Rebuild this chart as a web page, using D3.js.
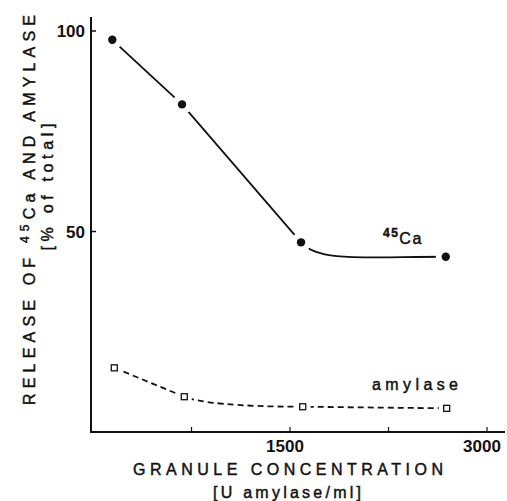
<!DOCTYPE html>
<html>
<head>
<meta charset="utf-8">
<script src="https://cdn.jsdelivr.net/npm/d3@7"></script>
<style>
  html, body { margin: 0; padding: 0; background: #fff; }
  text { font-family: "Liberation Sans", Arial, sans-serif; fill: #111; }
  .title { stroke: #111; stroke-width: 0.45; }
</style>
</head>
<body>
<div id="chart"></div>
<script>
// Data
var caConc = [147, 678, 1584, 2686];        // U amylase / ml
var caRelease = [97.8, 81.7, 47.3, 43.7];   // % of total
var amyConc = [162, 695, 1597, 2693];
var amyRelease = [16.0, 8.8, 6.3, 5.9];

var xTicks = [750, 1500, 2250, 3000];
var xTickLabels = [1500, 3000];
var yTicks = [50, 100];

var width = 507, height = 501;

var svg = d3.select("#chart")
    .append("svg")
    .attr("width", width)
    .attr("height", height);

var x = d3.scaleLinear().domain([0, 3000]).range([93, 487]);
var y = d3.scaleLinear().domain([0, 100]).range([432, 31]);

// axes
svg.append("line")
    .attr("x1", 91).attr("x2", 91)
    .attr("y1", 17).attr("y2", y(0) + 1)
    .attr("stroke", "#111").attr("stroke-width", 2);
svg.append("line")
    .attr("x1", 90).attr("x2", 505)
    .attr("y1", y(0)).attr("y2", y(0))
    .attr("stroke", "#111").attr("stroke-width", 2);

svg.append("g").selectAll("line")
    .data(yTicks)
    .join("line")
    .attr("x1", 91).attr("x2", 96)
    .attr("y1", d => y(d)).attr("y2", d => y(d))
    .attr("stroke", "#111").attr("stroke-width", 1.5);

svg.append("g").selectAll("text")
    .data(yTicks)
    .join("text")
    .attr("x", 85)
    .attr("y", d => y(d) + 6)
    .attr("text-anchor", "end")
    .attr("font-size", 17)
    .attr("font-weight", "bold")
    .text(d => d);

svg.append("g").selectAll("line")
    .data(xTicks)
    .join("line")
    .attr("x1", d => x(d)).attr("x2", d => x(d))
    .attr("y1", y(0)).attr("y2", y(0) - 5)
    .attr("stroke", "#111").attr("stroke-width", 1.2);

svg.append("g").selectAll("text")
    .data(xTickLabels)
    .join("text")
    .attr("x", d => x(d) - 5)
    .attr("y", 452)
    .attr("text-anchor", "middle")
    .attr("font-size", 17)
    .attr("font-weight", "bold")
    .text(d => d);

// axis titles
svg.append("text")
    .attr("class", "title")
    .attr("x", 288).attr("y", 475)
    .attr("text-anchor", "middle")
    .attr("font-size", 16)
    .attr("textLength", 310)
    .attr("lengthAdjust", "spacing")
    .text("GRANULE CONCENTRATION");

svg.append("text")
    .attr("class", "title")
    .attr("x", 287).attr("y", 498)
    .attr("text-anchor", "middle")
    .attr("font-size", 16)
    .attr("textLength", 148)
    .attr("lengthAdjust", "spacing")
    .text("[U amylase/ml]");

var yTitle = svg.append("text")
    .attr("class", "title")
    .attr("transform", "translate(35,210) rotate(-90)")
    .attr("text-anchor", "middle")
    .attr("font-size", 16)
    .attr("textLength", 390)
    .attr("lengthAdjust", "spacing");
yTitle.append("tspan").text("RELEASE OF ");
yTitle.append("tspan").attr("font-size", 12).attr("dy", -6).text("45");
yTitle.append("tspan").attr("dy", 6).text("Ca AND AMYLASE");

svg.append("text")
    .attr("class", "title")
    .attr("transform", "translate(53,187) rotate(-90)")
    .attr("text-anchor", "middle")
    .attr("font-size", 16)
    .attr("textLength", 127)
    .attr("lengthAdjust", "spacing")
    .text("[% of total]");

// points in pixels
var caPts = caConc.map((c, i) => [x(c), y(caRelease[i])]);
var amyPts = amyConc.map((c, i) => [x(c), y(amyRelease[i])]);

// hand-drawn style: straight segments, one segment bent so that it
// leaves the "knee" point on the incoming slope and levels off
function kneePath(pts, knee) {
    var p = d3.path();
    p.moveTo(pts[0][0], pts[0][1]);
    for (var i = 1; i < pts.length; i++) {
        var a = pts[i - 1], b = pts[i];
        if (i - 1 === knee && knee > 0) {
            var prev = pts[knee - 1];
            var slope = (a[1] - prev[1]) / (a[0] - prev[0]);
            var dx = b[0] - a[0];
            var step = 0.12 * dx;
            p.bezierCurveTo(a[0] + step, a[1] + slope * step,
                a[0] + 0.45 * dx, b[1], b[0], b[1]);
        } else {
            p.lineTo(b[0], b[1]);
        }
    }
    return p.toString();
}

// 45Ca series: solid line broken around the dots
svg.append("path")
    .attr("d", kneePath(caPts, 2))
    .attr("fill", "none")
    .attr("stroke", "#111")
    .attr("stroke-width", 1.8);

svg.append("g").selectAll("circle")
    .data(caPts)
    .join("circle")
    .attr("cx", d => d[0]).attr("cy", d => d[1])
    .attr("r", 10)
    .attr("fill", "#fff");

svg.append("g").selectAll("circle")
    .data(caPts)
    .join("circle")
    .attr("cx", d => d[0]).attr("cy", d => d[1])
    .attr("r", 4.2)
    .attr("fill", "#111");

// amylase series: dashed line, open squares
svg.append("path")
    .attr("d", kneePath(amyPts, 1))
    .attr("fill", "none")
    .attr("stroke", "#111")
    .attr("stroke-width", 1.8)
    .attr("stroke-dasharray", "6,4");

svg.append("g").selectAll("circle")
    .data(amyPts)
    .join("circle")
    .attr("cx", d => d[0]).attr("cy", d => d[1])
    .attr("r", 8)
    .attr("fill", "#fff");

svg.append("g").selectAll("rect")
    .data(amyPts)
    .join("rect")
    .attr("x", d => d[0] - 3).attr("y", d => d[1] - 3)
    .attr("width", 6).attr("height", 6)
    .attr("fill", "#fff")
    .attr("stroke", "#111")
    .attr("stroke-width", 1.3);

// series labels
var caLabel = svg.append("text")
    .attr("class", "title")
    .attr("x", 383).attr("y", 244)
    .attr("font-size", 16)
    .attr("letter-spacing", 1.5);
caLabel.append("tspan").attr("font-size", 12).attr("font-weight", "bold").attr("dy", -7).text("45");
caLabel.append("tspan").attr("dy", 7).text("Ca");

svg.append("text")
    .attr("class", "title")
    .attr("x", 372).attr("y", 390)
    .attr("font-size", 16)
    .attr("textLength", 86)
    .attr("lengthAdjust", "spacing")
    .text("amylase");
</script>
</body>
</html>
